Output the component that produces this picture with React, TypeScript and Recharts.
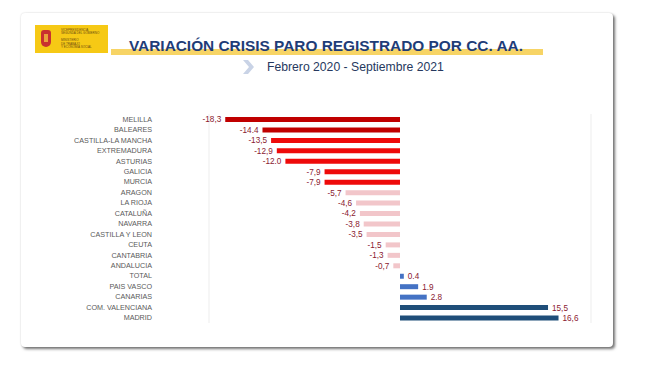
import React from "react";
import { BarChart, Bar, XAxis, YAxis, CartesianGrid, Cell, LabelList } from "recharts";

const regions = [
  "MELILLA", "BALEARES", "CASTILLA-LA MANCHA", "EXTREMADURA", "ASTURIAS", "GALICIA", "MURCIA",
  "ARAGON", "LA RIOJA", "CATALUÑA", "NAVARRA", "CASTILLA Y LEON", "CEUTA", "CANTABRIA",
  "ANDALUCIA", "TOTAL", "PAIS VASCO", "CANARIAS", "COM. VALENCIANA", "MADRID",
];
const values = [
  -18.3, -14.4, -13.5, -12.9, -12.0, -7.9, -7.9, -5.7, -4.6, -4.2, -3.8, -3.5, -1.5, -1.3, -0.7,
  0.4, 1.9, 2.8, 15.5, 16.6,
];
const valueLabels = [
  "-18,3", "-14.4", "-13,5", "-12,9", "-12.0", "-7,9", "-7,9", "-5,7", "-4,6", "-4,2", "-3,8",
  "-3,5", "-1,5", "-1,3", "-0,7", "0.4", "1.9", "2.8", "15,5", "16,6",
];
const xTicks = [-20, -15, -10, -5, 0, 5, 10, 15, 20];

const data = regions.map((name, i) => ({ name, value: values[i], label: valueLabels[i] }));

function colorFor(v: number): string {
  if (v <= -14) return "#c00000";
  if (v <= -7) return "#ee0a0a";
  if (v < 0) return "#f2c6ca";
  if (v < 5) return "#4472c4";
  return "#1f4e79";
}

const FONT = "'Liberation Sans', Arial, sans-serif";

function RegionTick(props: any) {
  const { x, y, payload } = props;
  return (
    <text x={x} y={y} dy={2.5} textAnchor="end" fontSize={7.2} fill="#5a5a5a" fontFamily={FONT}>
      {payload.value}
    </text>
  );
}

export default function App() {
  return (
    <div style={{ position: "absolute", left: 0, top: 0, width: 650, height: 370, background: "#fff", fontFamily: FONT, overflow: "hidden" }}>
      <div
        style={{
          position: "absolute", left: 21, top: 13, width: 592, height: 334, background: "#fff",
          borderRadius: 4, boxShadow: "2px 2px 3px rgba(0,0,0,0.55), 0 0 2px rgba(0,0,0,0.15)",
        }}
      />
      {/* logo */}
      <div style={{ position: "absolute", left: 35, top: 25, width: 73, height: 28, background: "#f6c915" }}>
        <div style={{ position: "absolute", left: 6, top: 5, width: 10, height: 17, background: "#c8312f", borderRadius: "3px 3px 5px 5px" }} />
        <div style={{ position: "absolute", left: 9, top: 9, width: 4, height: 8, background: "#e9a23b" }} />
        <div style={{ position: "absolute", left: 26, top: 4, fontSize: 3, lineHeight: "3.4px", color: "#6b4a10", whiteSpace: "nowrap" }}>
          VICEPRESIDENCIA<br />SEGUNDA DEL GOBIERNO<br /><br />MINISTERIO<br />DE TRABAJO<br />Y ECONOMÍA SOCIAL
        </div>
      </div>
      {/* title band */}
      <div style={{ position: "absolute", left: 111, top: 49, width: 432, height: 6, background: "#f7d465" }} />
      <div style={{ position: "absolute", left: 129, top: 37, fontSize: 15.4, fontWeight: "bold", color: "#1f3d78", whiteSpace: "nowrap", lineHeight: "18px" }}>
        VARIACIÓN CRISIS PARO REGISTRADO POR CC. AA.
      </div>
      {/* chevron */}
      <svg style={{ position: "absolute", left: 242, top: 59 }} width={14} height={16}>
        <polygon points="1,1 6,1 12,8 6,15 1,15 7,8" fill="#c9d3e6" />
      </svg>
      <div style={{ position: "absolute", left: 267, top: 60, fontSize: 12.2, color: "#26385e", whiteSpace: "nowrap", lineHeight: "14px" }}>
        Febrero 2020 - Septiembre 2021
      </div>
      <div style={{ position: "absolute", left: 0, top: 100 }}>
        <BarChart
          width={650}
          height={240}
          data={data}
          layout="vertical"
          margin={{ top: 14, right: 59, bottom: 17, left: 59 }}
          barCategoryGap={0}
        >
          <CartesianGrid horizontal={false} stroke="#ededed" />
          <XAxis
            type="number"
            domain={[-20, 20]}
            ticks={xTicks}
            tick={false}
            axisLine={false}
            tickLine={false}
            height={0}
          />
          <YAxis
            type="category"
            dataKey="name"
            width={150}
            axisLine={false}
            tickLine={false}
            tickSize={0}
            tickMargin={57}
            interval={0}
            tick={<RegionTick />}
          />
          <Bar dataKey="value" barSize={5} isAnimationActive={false}>
            {data.map((d, i) => (
              <Cell key={i} fill={colorFor(d.value)} />
            ))}
            <LabelList dataKey="label" position="right" offset={4} fill="#8a2030" fontSize={8.2} fontFamily={FONT} />
          </Bar>
        </BarChart>
      </div>
    </div>
  );
}
